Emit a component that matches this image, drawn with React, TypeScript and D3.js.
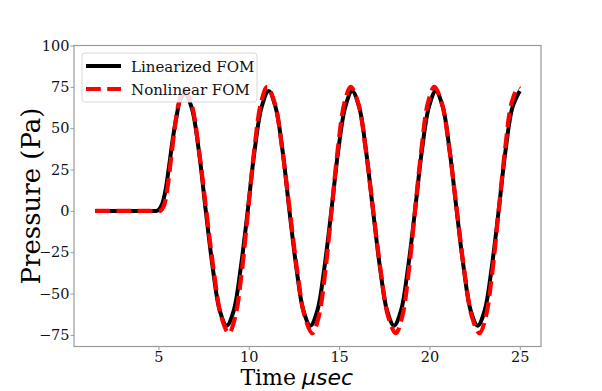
import React, { useEffect, useRef } from "react";
import * as d3 from "d3";

// Linearized FOM (time in µs, pressure in Pa)
const linTime = [1.5, 2.5, 3.5, 4.5, 4.9, 5.0, 5.2, 5.4, 5.6, 5.8, 6.0, 6.2, 6.47, 6.85, 7.24, 7.62, 8.01, 8.39, 8.78, 9.17, 9.55, 9.94, 10.32, 10.71, 11.1, 11.48, 11.87, 12.25, 12.64, 13.02, 13.41, 13.8, 14.18, 14.57, 14.95, 15.34, 15.72, 16.11, 16.49, 16.88, 17.27, 17.65, 18.04, 18.43, 18.81, 19.2, 19.58, 19.97, 20.35, 20.74, 21.12, 21.51, 21.9, 22.28, 22.67, 23.06, 23.44, 23.83, 24.21, 24.6, 25.0];
const linPressure = [0, 0, 0, 0, 0, 0.5, 4, 13, 28, 44, 57, 67, 71, 62, 36, 0, -34.8, -60.2, -69.5, -60.2, -34.8, 0, 36.3, 62.8, 72.5, 62.8, 36.3, 0, -34.8, -60.2, -69.5, -60.2, -34.8, 0, 36.3, 62.8, 72.5, 62.8, 36.3, 0, -34.8, -60.2, -69.5, -60.2, -34.8, 0, 36.3, 62.8, 72.5, 62.8, 36.3, 0, -34.8, -60.2, -69.5, -60.2, -34.8, 0, 36.3, 62.8, 72.5];

// Nonlinear FOM
const nlTime = [1.5, 2.5, 3.5, 4.5, 5.1, 5.3, 5.5, 5.7, 5.9, 6.1, 6.4, 6.82, 7.23, 7.65, 8.07, 8.48, 8.9, 9.25, 9.61, 9.96, 10.31, 10.67, 11.02, 11.44, 11.85, 12.27, 12.69, 13.1, 13.52, 13.87, 14.23, 14.58, 14.93, 15.29, 15.64, 16.06, 16.47, 16.89, 17.31, 17.72, 18.14, 18.49, 18.85, 19.2, 19.56, 19.91, 20.27, 20.69, 21.1, 21.52, 21.94, 22.35, 22.77, 23.12, 23.48, 23.83, 24.19, 24.54, 24.9, 25.0];
const nlPressure = [0, 0, 0, 0, 0, 3, 14, 32, 50, 64, 74, 65, 37.5, 0, -37, -64, -74, -64, -37, 0, 37.5, 65, 75, 65, 37.5, 0, -37, -64, -74, -64, -37, 0, 37.5, 65, 75, 65, 37.5, 0, -37, -64, -74, -64, -37, 0, 37.5, 65, 75, 65, 37.5, 0, -37, -64, -74, -64, -37, 0, 37.5, 65, 74.5, 74];

const xTicks = [5, 10, 15, 20, 25];
const yTicks = [-75, -50, -25, 0, 25, 50, 75, 100];
const seriesNames = ["Linearized FOM", "Nonlinear FOM"];

const W = 602;
const H = 391;
const M = { left: 74, right: 541, top: 45.5, bottom: 346.5 };

export default function App() {
  const ref = useRef<SVGSVGElement | null>(null);

  useEffect(() => {
    const svg = d3.select(ref.current);
    svg.selectAll("*").remove();

    const x = d3.scaleLinear().domain([0.325, 26.175]).range([M.left, M.right]);
    const y = d3.scaleLinear().domain([-82, 100]).range([M.bottom, M.top]);

    const serif = "'DejaVu Serif', serif";
    const axisColor = "#9a9a9a";

    const xAxis = d3.axisBottom(x).tickValues(xTicks).tickSize(3.5).tickPadding(1.5).tickFormat((d) => String(d));
    const yAxis = d3
      .axisLeft(y)
      .tickValues(yTicks)
      .tickSize(3.5)
      .tickPadding(1)
      .tickFormat((d) => String(d).replace("-", "\u2212"));

    const gx = svg.append("g").attr("transform", `translate(0,${M.bottom})`).call(xAxis);
    const gy = svg.append("g").attr("transform", `translate(${M.left},0)`).call(yAxis);
    [gx, gy].forEach((g) => {
      g.select(".domain").remove();
      g.selectAll("line").attr("stroke", axisColor).attr("stroke-width", 1);
      g.selectAll("text").attr("font-family", serif).attr("font-size", 14.5).attr("fill", "#111");
    });

    svg
      .append("rect")
      .attr("x", M.left)
      .attr("y", M.top)
      .attr("width", M.right - M.left)
      .attr("height", M.bottom - M.top)
      .attr("fill", "none")
      .attr("stroke", axisColor)
      .attr("stroke-width", 1.2);

    const line = d3
      .line<[number, number]>()
      .x((d) => x(d[0]))
      .y((d) => y(d[1]))
      .curve(d3.curveCatmullRom.alpha(0.5));

    const linData: [number, number][] = linTime.map((t, i) => [t, linPressure[i]]);
    const nlData: [number, number][] = nlTime.map((t, i) => [t, nlPressure[i]]);

    svg
      .append("path")
      .datum(linData)
      .attr("d", line)
      .attr("fill", "none")
      .attr("stroke", "#000")
      .attr("stroke-width", 4);

    svg
      .append("path")
      .datum(nlData)
      .attr("d", line)
      .attr("fill", "none")
      .attr("stroke", "#ff0000")
      .attr("stroke-width", 4.2)
      .attr("stroke-dasharray", "14.8,6.4");

    // x label
    svg
      .append("text")
      .attr("x", 296)
      .attr("y", 384.5)
      .attr("text-anchor", "end")
      .attr("font-family", serif)
      .attr("font-size", 22)
      .attr("fill", "#000")
      .text("Time");
    svg
      .append("text")
      .attr("x", 302)
      .attr("y", 384.5)
      .attr("text-anchor", "start")
      .attr("font-family", "'DejaVu Sans', sans-serif")
      .attr("font-style", "italic")
      .attr("font-size", 22)
      .attr("fill", "#000")
      .text("\u03bcsec");

    // y label
    svg
      .append("text")
      .attr("transform", `translate(40,196) rotate(-90)`)
      .attr("text-anchor", "middle")
      .attr("font-family", serif)
      .attr("font-size", 26)
      .attr("fill", "#000")
      .text("Pressure (Pa)");

    // legend
    const lg = svg.append("g");
    lg.append("rect")
      .attr("x", 82)
      .attr("y", 53)
      .attr("width", 175)
      .attr("height", 49)
      .attr("rx", 3)
      .attr("fill", "#fff")
      .attr("fill-opacity", 0.85)
      .attr("stroke", "#d8d8d8")
      .attr("stroke-width", 1);
    const rows = [
      { y: 66, color: "#000", dash: null as string | null },
      { y: 89, color: "#ff0000", dash: "14.8,6.4" },
    ];
    rows.forEach((r, i) => {
      lg.append("line")
        .attr("x1", 86)
        .attr("x2", 121)
        .attr("y1", r.y)
        .attr("y2", r.y)
        .attr("stroke", r.color)
        .attr("stroke-width", 4)
        .attr("stroke-dasharray", r.dash);
      lg.append("text")
        .attr("x", 131)
        .attr("y", r.y + 5.5)
        .attr("font-family", serif)
        .attr("font-size", 15)
        .attr("fill", "#111")
        .text(seriesNames[i]);
    });
  }, []);

  return (
    <svg
      ref={ref}
      width={W}
      height={H}
      style={{ position: "absolute", left: 0, top: 0, background: "#fff" }}
    />
  );
}
